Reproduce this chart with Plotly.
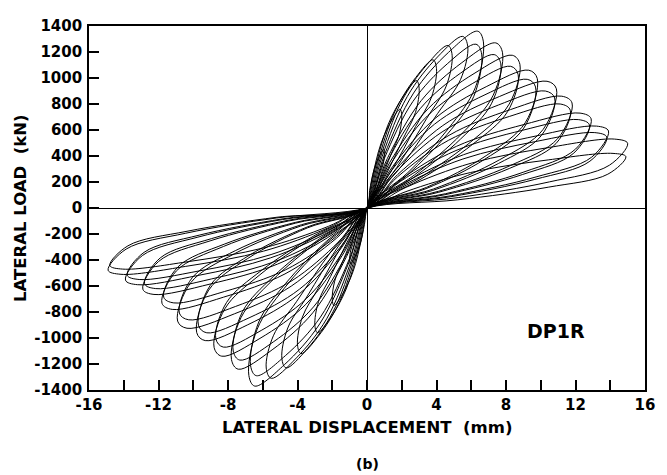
import plotly.graph_objects as go

# ---- data (displacement mm, load kN) ----
# positive-side petals (loading edge -> tip -> unloading edge), one list per cycle
pos_disp = [
    [0.15, 0.4, 0.7, 0.95, 1.0, 0.93, 0.7, 0.35],
    [0.3, 0.8, 1.4, 1.9, 2.0, 1.86, 1.4, 0.7],
    [0.45, 1.2, 2.1, 2.85, 3.0, 2.79, 2.1, 1.05],
    [0.6, 1.6, 2.8, 3.8, 4.0, 3.72, 2.8, 1.4],
    [0.74, 1.96, 3.43, 4.66, 4.9, 4.56, 3.43, 1.72],
    [0.87, 2.32, 4.06, 5.51, 5.8, 5.39, 4.06, 2.03],
    [1.0, 2.68, 4.69, 6.37, 6.7, 6.23, 4.69, 2.35],
    [0.99, 2.64, 4.62, 6.27, 6.6, 6.14, 4.62, 2.31],
    [1.17, 3.12, 5.46, 7.41, 7.8, 7.25, 5.46, 2.73],
    [1.16, 3.08, 5.39, 7.32, 7.7, 7.16, 5.39, 2.7],
    [1.32, 3.52, 6.16, 8.36, 8.8, 8.18, 6.16, 3.08],
    [1.31, 3.48, 6.09, 8.27, 8.7, 8.09, 6.09, 3.05],
    [1.47, 3.92, 6.86, 9.31, 9.8, 9.11, 6.86, 3.43],
    [1.46, 3.88, 6.79, 9.22, 9.7, 9.02, 6.79, 3.4],
    [1.64, 4.36, 7.63, 10.36, 10.9, 10.14, 7.63, 3.82],
    [1.62, 4.32, 7.56, 10.26, 10.8, 10.04, 7.56, 3.78],
    [1.77, 4.72, 8.26, 11.21, 11.8, 10.97, 8.26, 4.13],
    [1.76, 4.68, 8.19, 11.12, 11.7, 10.88, 8.19, 4.1],
    [1.94, 5.16, 9.03, 12.26, 12.9, 12.0, 9.03, 4.52],
    [1.92, 5.12, 8.96, 12.16, 12.8, 11.9, 8.96, 4.48],
    [2.09, 5.56, 9.73, 13.21, 13.9, 12.93, 9.73, 4.87],
    [2.07, 5.52, 9.66, 13.11, 13.8, 12.83, 9.66, 4.83],
    [2.25, 6.0, 10.5, 14.25, 15.0, 13.95, 10.5, 5.25],
    [2.24, 5.96, 10.43, 14.16, 14.9, 13.86, 10.43, 5.22],
]
pos_load = [
    [135, 293, 396, 450, 423, 338, 248, 113],
    [228, 494, 669, 760, 714, 570, 418, 190],
    [294, 637, 862, 980, 921, 735, 539, 245],
    [342, 741, 1003, 1140, 1072, 855, 627, 285],
    [375, 813, 1100, 1250, 1175, 938, 688, 313],
    [396, 858, 1162, 1320, 1241, 990, 726, 330],
    [408, 884, 1197, 1360, 1278, 925, 612, 272],
    [378, 819, 1109, 1260, 1184, 857, 567, 252],
    [381, 826, 1118, 1270, 1194, 864, 572, 254],
    [354, 767, 1038, 1180, 1109, 802, 531, 236],
    [353, 764, 1034, 1175, 1105, 799, 529, 235],
    [327, 709, 959, 1090, 1025, 741, 491, 218],
    [318, 689, 933, 1060, 996, 657, 403, 159],
    [297, 644, 871, 990, 931, 614, 376, 149],
    [293, 634, 858, 975, 917, 605, 371, 146],
    [270, 585, 792, 900, 846, 558, 342, 135],
    [258, 559, 757, 860, 808, 533, 327, 129],
    [240, 520, 704, 800, 752, 496, 304, 120],
    [219, 475, 642, 730, 686, 453, 277, 110],
    [204, 442, 598, 680, 639, 422, 258, 102],
    [189, 410, 554, 630, 592, 391, 239, 95],
    [174, 377, 510, 580, 545, 360, 220, 87],
    [159, 345, 466, 530, 498, 329, 201, 80],
    [126, 273, 370, 420, 395, 260, 160, 63],
]
# negative-side petals, same cycle order
neg_disp = [
    [-0.15, -0.4, -0.7, -0.95, -1.0, -0.93, -0.7, -0.35],
    [-0.3, -0.8, -1.4, -1.9, -2.0, -1.86, -1.4, -0.7],
    [-0.45, -1.2, -2.1, -2.85, -3.0, -2.79, -2.1, -1.05],
    [-0.6, -1.6, -2.8, -3.8, -4.0, -3.72, -2.8, -1.4],
    [-0.74, -1.96, -3.43, -4.66, -4.9, -4.56, -3.43, -1.72],
    [-0.87, -2.32, -4.06, -5.51, -5.8, -5.39, -4.06, -2.03],
    [-1.02, -2.72, -4.76, -6.46, -6.8, -6.32, -4.76, -2.38],
    [-1.0, -2.68, -4.69, -6.37, -6.7, -6.23, -4.69, -2.35],
    [-1.17, -3.12, -5.46, -7.41, -7.8, -7.25, -5.46, -2.73],
    [-1.16, -3.08, -5.39, -7.32, -7.7, -7.16, -5.39, -2.7],
    [-1.32, -3.52, -6.16, -8.36, -8.8, -8.18, -6.16, -3.08],
    [-1.31, -3.48, -6.09, -8.27, -8.7, -8.09, -6.09, -3.05],
    [-1.47, -3.92, -6.86, -9.31, -9.8, -9.11, -6.86, -3.43],
    [-1.46, -3.88, -6.79, -9.22, -9.7, -9.02, -6.79, -3.4],
    [-1.64, -4.36, -7.63, -10.36, -10.9, -10.14, -7.63, -3.82],
    [-1.62, -4.32, -7.56, -10.26, -10.8, -10.04, -7.56, -3.78],
    [-1.77, -4.72, -8.26, -11.21, -11.8, -10.97, -8.26, -4.13],
    [-1.76, -4.68, -8.19, -11.12, -11.7, -10.88, -8.19, -4.1],
    [-1.94, -5.16, -9.03, -12.26, -12.9, -12.0, -9.03, -4.52],
    [-1.92, -5.12, -8.96, -12.16, -12.8, -11.9, -8.96, -4.48],
    [-2.09, -5.56, -9.73, -13.21, -13.9, -12.93, -9.73, -4.87],
    [-2.07, -5.52, -9.66, -13.11, -13.8, -12.83, -9.66, -4.83],
    [-2.24, -5.96, -10.43, -14.16, -14.9, -13.86, -10.43, -5.22],
    [-2.22, -5.92, -10.36, -14.06, -14.8, -13.76, -10.36, -5.18],
]
neg_load = [
    [-129, -280, -378, -430, -404, -323, -237, -108],
    [-225, -488, -660, -750, -705, -563, -413, -188],
    [-288, -624, -845, -960, -902, -720, -528, -240],
    [-336, -728, -986, -1120, -1053, -840, -616, -280],
    [-369, -800, -1082, -1230, -1156, -923, -677, -308],
    [-393, -852, -1153, -1310, -1231, -983, -721, -328],
    [-411, -891, -1206, -1370, -1288, -932, -617, -274],
    [-387, -839, -1135, -1290, -1213, -877, -581, -258],
    [-372, -806, -1091, -1240, -1166, -843, -558, -248],
    [-351, -761, -1030, -1170, -1100, -796, -527, -234],
    [-342, -741, -1003, -1140, -1072, -775, -513, -228],
    [-321, -696, -942, -1070, -1006, -728, -482, -214],
    [-306, -663, -898, -1020, -959, -632, -388, -153],
    [-288, -624, -845, -960, -902, -595, -365, -144],
    [-278, -601, -814, -925, -870, -574, -352, -139],
    [-258, -559, -757, -860, -808, -533, -327, -129],
    [-234, -507, -686, -780, -733, -484, -296, -117],
    [-219, -475, -642, -730, -686, -453, -277, -110],
    [-200, -432, -585, -665, -625, -412, -253, -100],
    [-186, -403, -546, -620, -583, -384, -236, -93],
    [-177, -384, -519, -590, -555, -366, -224, -89],
    [-165, -358, -484, -550, -517, -341, -209, -83],
    [-153, -332, -449, -510, -479, -316, -194, -77],
    [-141, -306, -414, -470, -442, -291, -179, -71],
]

x_tick_vals = [-16, -12, -8, -4, 0, 4, 8, 12, 16]
x_tick_text = ["-16", "-12", "-8", "-4", "0", "4", "8", "12", "16"]
y_tick_vals = [-1400, -1200, -1000, -800, -600, -400, -200, 0, 200, 400, 600, 800, 1000, 1200, 1400]
y_tick_text = ["-1400", "-1200", "-1000", "-800", "-600", "-400", "-200", "0",
               "200", "400", "600", "800", "1000", "1200", "1400"]

# ---- assemble the continuous hysteresis trace ----
xs, ys = [0], [0]
for px, py, nx, ny in zip(pos_disp, pos_load, neg_disp, neg_load):
    xs += px + [0] + nx + [0]
    ys += py + [0] + ny + [0]

FONT = "DejaVu Sans, Liberation Sans, Arial, sans-serif"

fig = go.Figure()
fig.add_trace(go.Scatter(
    x=xs, y=ys, mode="lines",
    line=dict(color="black", width=1, shape="spline", smoothing=1.0),
    hoverinfo="skip", showlegend=False,
))

axis_common = dict(
    showline=True, linecolor="black", linewidth=1.6, mirror=True,
    showgrid=False, zeroline=True, zerolinecolor="black", zerolinewidth=1.2,
    ticks="inside", ticklen=10, tickwidth=1.5, tickcolor="black",
    tickfont=dict(family=FONT, size=15, color="black", weight="bold"),
)

fig.update_xaxes(
    range=[-16, 16], tickmode="array", tickvals=x_tick_vals, ticktext=x_tick_text,
    minor=dict(dtick=2, tick0=0, ticks="inside", ticklen=10, tickwidth=1.5, tickcolor="black", showgrid=False),
    ticklabelstandoff=0,
    **axis_common,
)
fig.update_yaxes(
    range=[-1400, 1400], tickmode="array", tickvals=y_tick_vals, ticktext=y_tick_text,
    ticklabelstandoff=2,
    **axis_common,
)

# page has an 8px body margin, so the figure is 8px smaller than the window
fig.update_layout(
    width=659, height=467,
    margin=dict(l=81, r=22, t=9, b=85),
    plot_bgcolor="white", paper_bgcolor="white",
    annotations=[
        dict(text="LATERAL DISPLACEMENT\u00a0\u00a0(mm)", xref="paper", yref="paper",
             x=0.5, y=-0.102, xanchor="center", yanchor="middle", showarrow=False,
             font=dict(family=FONT, size=16.5, color="black", weight="bold")),
        dict(text="LATERAL LOAD\u00a0\u00a0(kN)", xref="paper", yref="paper",
             x=-0.124, y=0.5, xanchor="center", yanchor="middle", textangle=-90, showarrow=False,
             font=dict(family=FONT, size=16.5, color="black", weight="bold")),
        dict(text="(b)", xref="paper", yref="paper",
             x=0.5, y=-0.204, xanchor="center", yanchor="middle", showarrow=False,
             font=dict(family=FONT, size=14, color="black", weight="bold")),
        dict(text="DP1R", xref="x", yref="y", x=10.9, y=-946,
             xanchor="center", yanchor="middle", showarrow=False,
             font=dict(family=FONT, size=19, color="black", weight="bold")),
    ],
)

fig.write_html("out.html")
